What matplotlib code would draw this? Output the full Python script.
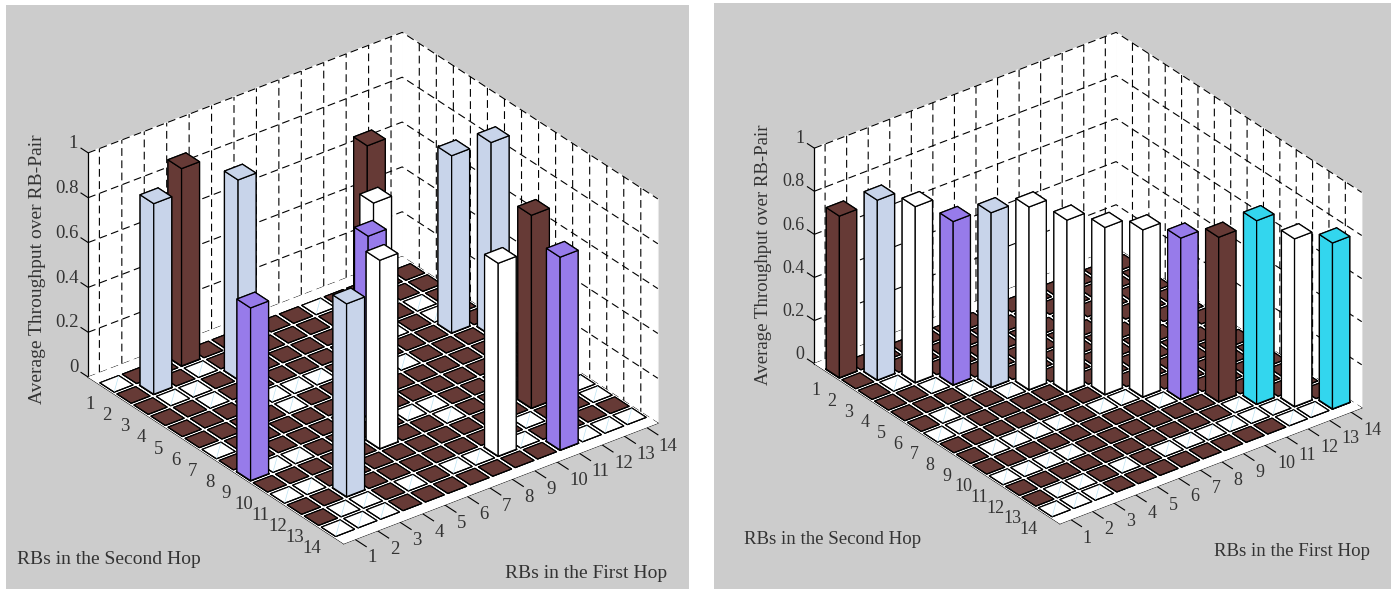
"""Average throughput over RB pairs, two 3D bar panels."""

import matplotlib
matplotlib.use("Agg")
import matplotlib.pyplot as plt
from matplotlib.patches import Rectangle

BROWN = "#663a36"
BLUE = "#c8d4ea"
PURPLE = "#977bea"
CYAN = "#33d6ee"
WHITE = "#ffffff"
GREY = "#cccccc"
TEXT = "#333333"

rb_ticks = list(range(1, 15))
z_ticks = [0, 0.2, 0.4, 0.6, 0.8, 1]
z_labels = ["0", "0.2", "0.4", "0.6", "0.8", "1"]

# left panel, bars as (first hop, second hop)
left_bar_x = [2, 4, 5, 1, 3, 6, 7, 10, 8, 13, 14, 12, 9, 11]
left_bar_y = [2, 1, 3, 9, 12, 10, 8, 4, 7, 5, 6, 11, 13, 14]
left_bar_z = [0.85, 0.88, 0.89, 0.77, 0.86, 0.84, 0.81, 0.90, 0.87, 0.79, 0.86, 0.86, 0.86, 0.86]
left_bar_colors = [BLUE, BROWN, BLUE, PURPLE, BLUE, WHITE, PURPLE, BROWN, WHITE, BLUE, BLUE, BROWN, WHITE, PURPLE]
left_white_cells = [
    (1, 1), (4, 2), (2, 3), (3, 3), (3, 4), (1, 7), (6, 5), (7, 5), (10, 1), (5, 5), (5, 6), (2, 9), (3, 9),
    (2, 11), (1, 11), (2, 13), (3, 13), (1, 14), (2, 14), (3, 14), (8, 9), (13, 3), (10, 6), (9, 9), (9, 10),
    (7, 13), (8, 13), (5, 13), (11, 12), (10, 13), (14, 11), (14, 12), (14, 14), (13, 14), (12, 14), (11, 4), (13, 4),
]

# right panel, bars sit on the diagonal
right_bar_x = list(range(1, 15))
right_bar_y = list(range(1, 15))
right_bar_z = [0.75, 0.835, 0.816, 0.758, 0.81, 0.848, 0.798, 0.775, 0.775, 0.748, 0.763, 0.851, 0.778, 0.77]
right_bar_colors = [BROWN, BLUE, WHITE, PURPLE, BLUE, WHITE, WHITE, WHITE, WHITE, PURPLE, BROWN, CYAN, WHITE, CYAN]
right_white_cells = [
    (2, 3), (3, 4), (4, 5), (5, 6), (2, 6), (2, 7), (1, 7), (5, 9), (4, 9), (3, 9), (2, 9), (4, 11), (3, 11),
    (2, 11), (1, 11), (3, 13), (2, 13), (1, 14), (2, 14), (3, 14), (7, 9), (8, 9), (9, 10), (11, 12), (12, 13),
    (13, 14), (11, 13), (12, 14), (10, 13), (9, 13), (8, 13), (7, 13), (5, 13),
]

W_PX = 1395
H_PX = 592
BAR_W = 0.8
TILE_W = 0.84


def add_panel_background(fig, x0, y0, x1, y1):
    fig.add_artist(Rectangle((x0 / W_PX, 1 - y1 / H_PX), (x1 - x0) / W_PX, (y1 - y0) / H_PX,
                             transform=fig.transFigure, facecolor=GREY, edgecolor="none", zorder=-5))


def style_axis(axis, inward, outward):
    axis.set_pane_color((1, 1, 1, 1))
    axis.pane.set_edgecolor(WHITE)
    axis.line.set_color("black")
    axis.line.set_linewidth(0.9)
    axis._axinfo["grid"].update(color="black", linewidth=0.8, linestyle=(0, (7, 4)))
    axis._axinfo["tick"].update(inward_factor=inward, outward_factor=outward)
    axis._axinfo["tick"]["linewidth"] = {True: 0.8, False: 0.8}
    axis._axinfo["tick"]["color"] = "black"


def make_panel(fig, center, width_px, tick_size, bar_x, bar_y, bar_z, bar_colors, white_cells):
    left = center[0] - 0.5135 * width_px
    bottom = (H_PX - center[1]) - 0.5135 * width_px
    ax = fig.add_axes([left / W_PX, bottom / H_PX, width_px / W_PX, width_px / H_PX],
                      projection="3d", proj_type="ortho", computed_zorder=False)
    ax.patch.set_visible(False)
    ax.view_init(elev=30, azim=-127.5)
    ax.set_box_aspect((396, 420, 259))

    # floor cover hides the grid under the tiles
    ax.bar3d(0.5, 0, 0, 14, 15, 0, color=WHITE, edgecolor="none", shade=False, zorder=1)

    cells = [(x, y) for x in rb_ticks for y in rb_ticks]
    tile_colors = [WHITE if cell in white_cells else BROWN for cell in cells]
    ax.bar3d([c[0] - TILE_W / 2 for c in cells], [c[1] - TILE_W / 2 for c in cells], 0, TILE_W, TILE_W, 0,
             color=tile_colors, edgecolor="black", linewidth=0.8, shade=False, zorder=2)

    for x, y in white_cells:
        ax.plot([x - 0.38, x + 0.38], [y + 0.38, y - 0.38], [0, 0], color="#bde3f2", linewidth=0.5, zorder=3)

    # back to front so nearer bars cover the ones behind
    order = sorted(range(len(bar_x)), key=lambda i: bar_y[i] - bar_x[i])
    for rank, i in enumerate(order):
        ax.bar3d(bar_x[i] - BAR_W / 2, bar_y[i] - BAR_W / 2, 0, BAR_W, BAR_W, bar_z[i],
                 color=bar_colors[i], edgecolor="black", linewidth=0.9, shade=False, zorder=10 + rank)

    ax.set_xlim(0.5, 14.5)
    ax.set_ylim(15, 0)
    ax.set_zlim(0, 1)
    ax.set_xticks(rb_ticks)
    ax.set_yticks(rb_ticks)
    ax.set_zticks(z_ticks)
    ax.set_zticklabels(z_labels)
    # y runs backwards here, so the x ticks count as inward
    style_axis(ax.xaxis, 0.55, 0.0)
    style_axis(ax.yaxis, 0.0, 0.4)
    style_axis(ax.zaxis, 0.0, 0.35)
    ax.tick_params(axis="both", labelsize=tick_size, labelcolor=TEXT, pad=3)
    ax.tick_params(axis="z", labelsize=tick_size, labelcolor=TEXT, pad=-4)
    for label in ax.get_xticklabels() + ax.get_yticklabels() + ax.get_zticklabels():
        label.set_family("Liberation Serif")
    for label in ax.get_xticklabels():
        label.set_ha("left")
        label.set_va("center")
    for label in ax.get_yticklabels():
        label.set_va("center")
    for label in ax.get_zticklabels():
        label.set_ha("right")
        label.set_va("bottom")
    ax.zaxis.set_ticks_position("lower")
    return ax


def add_labels(fig, size, z_pos, second_pos, first_pos):
    font = {"family": "Liberation Serif", "fontsize": size, "color": TEXT}
    fig.text(z_pos[0] / W_PX, 1 - z_pos[1] / H_PX, "Average Throughput over RB-Pair",
             rotation=90, ha="center", va="center", **font)
    fig.text(second_pos[0] / W_PX, 1 - second_pos[1] / H_PX, "RBs in the Second Hop", ha="left", va="center", **font)
    fig.text(first_pos[0] / W_PX, 1 - first_pos[1] / H_PX, "RBs in the First Hop", ha="left", va="center", **font)


def main():
    fig = plt.figure(figsize=(W_PX / 100, H_PX / 100), dpi=100, facecolor="white")
    add_panel_background(fig, 6, 5, 689, 589)
    add_panel_background(fig, 714, 3, 1391, 589)

    make_panel(fig, (373, 288), 614, 13.5, left_bar_x, left_bar_y, left_bar_z, left_bar_colors, left_white_cells)
    make_panel(fig, (1088, 278), 590, 13, right_bar_x, right_bar_y, right_bar_z, right_bar_colors, right_white_cells)

    add_labels(fig, 14, (38, 269), (17, 560), (505, 573))
    add_labels(fig, 13.6, (763, 255), (744, 539), (1214, 551))

    fig.savefig("out.png", dpi=100, facecolor="white")
    plt.close(fig)


if __name__ == "__main__":
    main()
